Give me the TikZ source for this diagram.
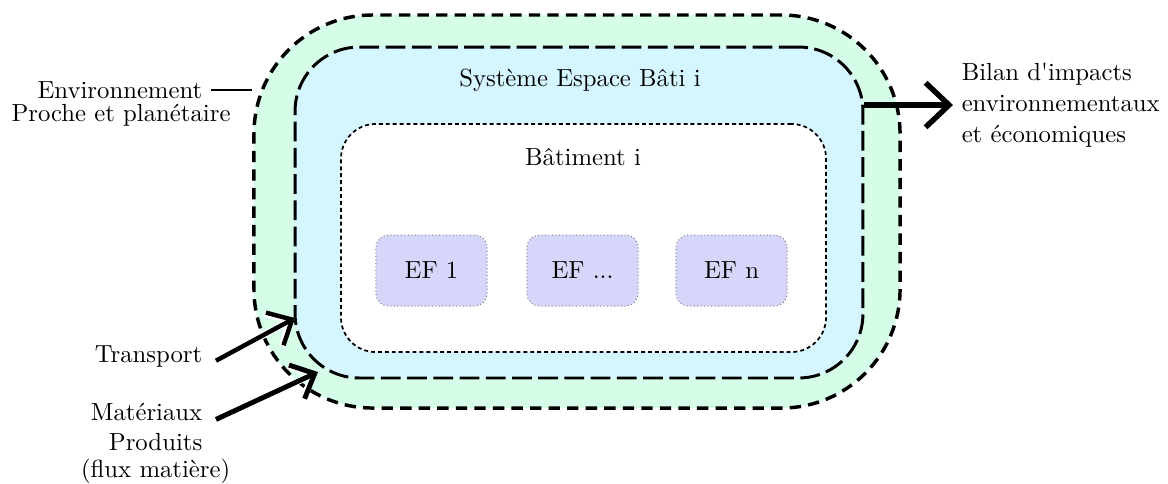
\documentclass[tikz,border=0pt]{standalone}
\usetikzlibrary{arrows.meta}
\definecolor{envgreen}{HTML}{D5FDE8}
\definecolor{sysblue}{HTML}{D5F5FF}
\definecolor{eflav}{HTML}{D6D6FA}
\begin{document}
\begin{tikzpicture}[x=0.4043pt,y=-0.4043pt,
  envbox/.style={draw=black, fill=envgreen, line width=1.4pt, dash pattern=on 4.6pt off 2.9pt,
    rounded corners=48pt, minimum width=261.2pt, minimum height=158.9pt, inner sep=0pt},
  sysbox/.style={draw=black, fill=sysblue, line width=1.2pt, dash pattern=on 8pt off 2.6pt,
    rounded corners=26pt, minimum width=229.6pt, minimum height=133.8pt, inner sep=0pt},
  batbox/.style={draw=black, fill=white, line width=0.7pt, dash pattern=on 1.6pt off 1.2pt,
    rounded corners=14pt, minimum width=196.1pt, minimum height=92.2pt, inner sep=0pt},
  efbox/.style={draw=gray, fill=eflav, line width=0.4pt, densely dotted,
    rounded corners=5pt, minimum width=44.9pt, minimum height=28.7pt},
  inarrow/.style={line width=1.8pt, -{Straight Barb[length=8pt,width=15pt]},
    preaction={draw=white, line width=2.8pt}},
  outarrow/.style={line width=2.2pt, -{Straight Barb[length=9.5pt,width=18pt]}},
  txt/.style={font=\normalsize}]
\useasboundingbox (0,0) rectangle (1168,483);

% nested zones
\node[envbox] (env) at (577,211.5) {};
\node[sysbox] (sys) at (579,212.5) {};
\node[batbox] (bat) at (583.5,238) {};

\node[txt] (systxt) at (580,80) {Système Espace Bâti i};
\node[txt] (battxt) at (583,157) {Bâtiment i};

% functional elements
\node[efbox] (ef1) at (431.5,270.5) {EF 1};
\node[efbox] (ef2) at (582.5,270.5) {EF ...};
\node[efbox] (ef3) at (731.5,270.5) {EF n};

% environment label
\node[txt, anchor=east] (envA) at (211,90) {Environnement};
\node[txt] (envB) at (121,115) {Proche et planétaire};
\draw[line width=1.2pt] (envA.east) -- (envA.east -| env.west);

% output
\node[txt, anchor=west, align=left] (bilan) at (953,105)
  {Bilan d\textquotesingle impacts\\[0.6pt]environnementaux\\[0.6pt]et économiques};
\draw[outarrow] (sys.east |- bilan.west) -- (bilan.west);

% inputs
\node[txt, anchor=east] (trans) at (211,357) {Transport};
\node[txt, anchor=east] (mat) at (211,412) {Matériaux};
\node[txt, anchor=east] (prod) at (211,442) {Produits};
\node[txt, anchor=east] (flux) at (239,471) {(flux matière)};
\coordinate (tA) at (295,318);
\coordinate (tB) at (318,372);
\draw[inarrow] ([xshift=2pt,yshift=-1.5pt]trans.east) -- (tA);
\draw[inarrow, line width=2pt] ([xshift=2pt,yshift=-3pt]mat.east) -- (tB);
\end{tikzpicture}
\end{document}
